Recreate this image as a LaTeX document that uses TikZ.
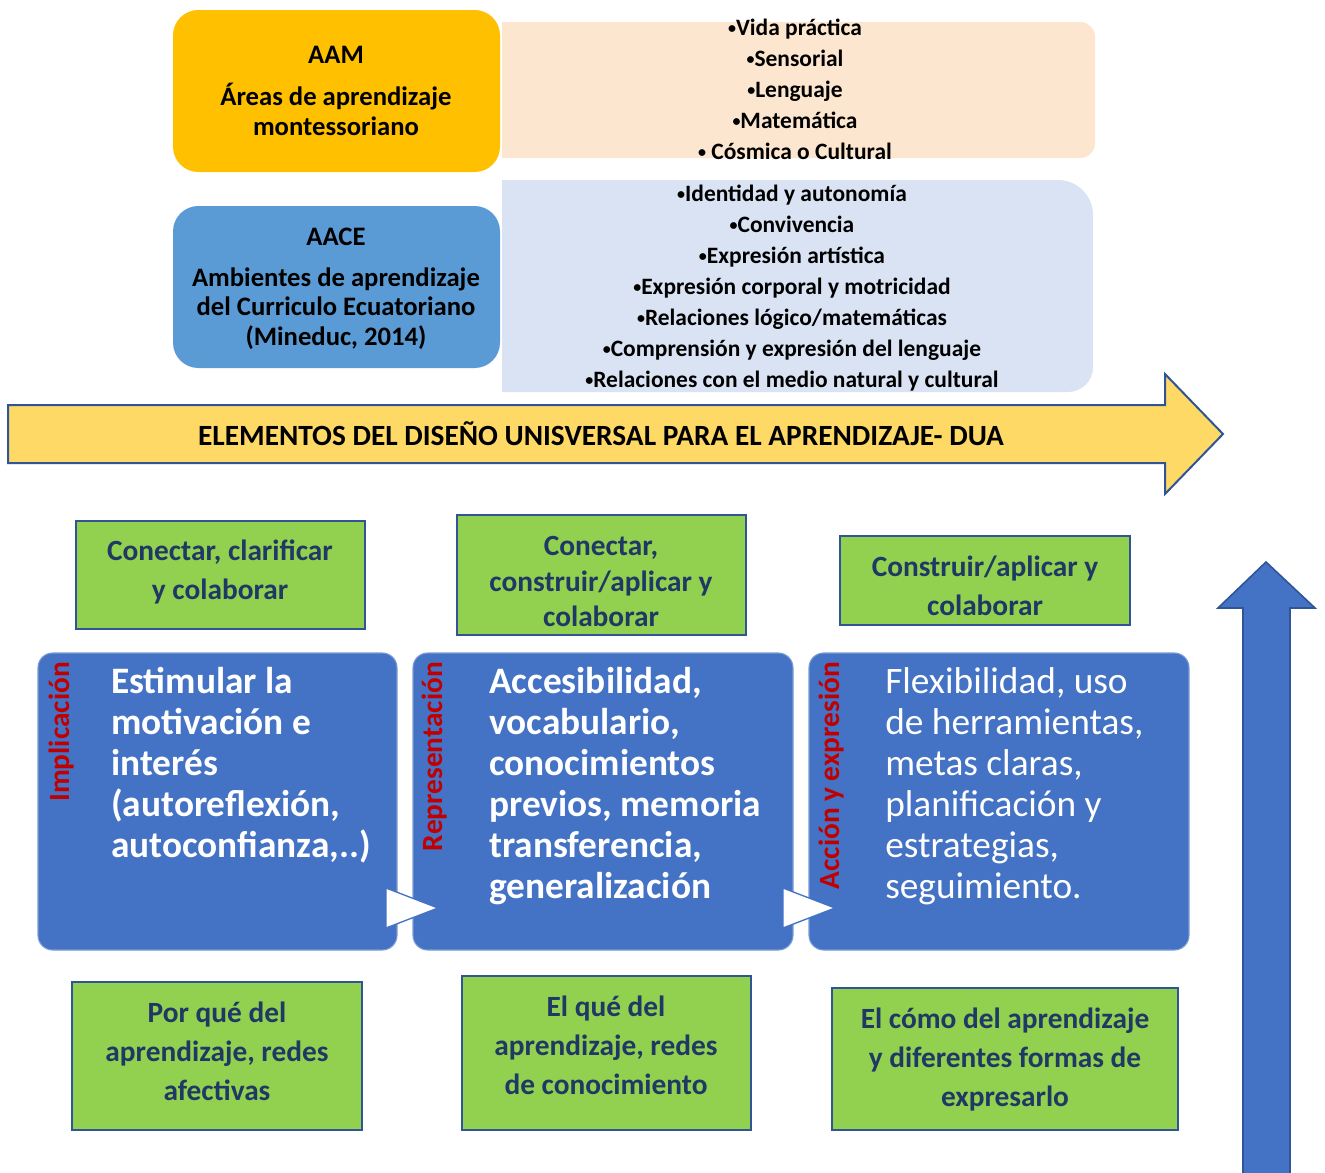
\documentclass[tikz,border=0pt]{standalone}
\usepackage{fontspec}
\setmainfont{Carlito}
\definecolor{amber}{HTML}{FFC000}
\definecolor{peach}{HTML}{FCE6CF}
\definecolor{midblue}{HTML}{5B9BD5}
\definecolor{paleblue}{HTML}{DAE3F3}
\definecolor{bannerfill}{HTML}{FFD966}
\definecolor{dkblue}{HTML}{2F5597}
\definecolor{grnfill}{HTML}{92D050}
\definecolor{navy}{HTML}{1F3864}
\definecolor{boxblue}{HTML}{4472C4}
\definecolor{darkred}{HTML}{C00000}
\newcommand{\bul}{{\fontsize{12}{12}\selectfont\raisebox{1.6pt}{•}}}
\tikzset{
  hdr/.style={font=\bfseries\fontsize{20}{22}\selectfont, align=center, inner sep=0pt},
  lst/.style={font=\bfseries\fontsize{17.6}{23.25}\selectfont, align=center, inner sep=0pt},
  grnbox/.style={draw=dkblue, line width=1.5pt, fill=grnfill},
  grntxt/.style={text=navy, font=\bfseries\fontsize{22}{29.25}\selectfont, align=center, inner sep=0pt},
  bluebox/.style={fill=boxblue, draw=boxblue!70!white, line width=0.8pt, rounded corners=11pt},
  bigtxt/.style={text=white, font=\bfseries\fontsize{28}{30.75}\selectfont, align=left, inner sep=0pt, anchor=north west},
  bigtxtreg/.style={text=white, font=\fontsize{28}{30.75}\selectfont, align=left, inner sep=0pt, anchor=north west},
  sidelbl/.style={text=darkred, font=\bfseries\fontsize{22}{24}\selectfont, rotate=90, anchor=east, inner sep=0pt},
  chev/.style={fill=white, draw=boxblue, line width=1pt, line join=miter},
}
\begin{document}
\begin{tikzpicture}[x=0.75pt,y=-0.75pt]
\useasboundingbox (0,0) rectangle (1325,1172);
\fill[white] (0,0) rectangle (1325,1172);

% list panels
\path[fill=peach] (502,22) -- (1080,22) to[out=0,in=90] (1095,37) -- (1095,143) to[out=-90,in=0] (1080,158) -- (502,158) -- cycle;
\path[fill=paleblue] (502,180) -- (1058,180) to[out=0,in=90] (1093,215) -- (1093,367) to[out=-90,in=0] (1068,392) -- (502,392) -- cycle;

% header boxes
\path[fill=amber, rounded corners=19pt] (173,10) rectangle (500,172);
\path[fill=midblue, rounded corners=19pt] (173,206) rectangle (500,368);

\node[hdr] (aamt) at (336,55) {AAM};
\node[hdr] (aamd) at (336,109.5) {Áreas de aprendizaje\\montessoriano};
\node[hdr] (aacet) at (336,237) {AACE};
\node[hdr] (aaced) at (336,308.5) {Ambientes de aprendizaje\\del Curriculo Ecuatoriano\\(Mineduc, 2014)};

\node[lst] (aamlist) at (795,89.5) {\bul Vida práctica\\\bul Sensorial\\\bul Lenguaje\\\bul Matemática\\\bul\ Cósmica o Cultural};
\node[lst] (aacelist) at (792,288.5) {\bul Identidad y autonomía\\\bul Convivencia\\\bul Expresión artística\\\bul Expresión corporal y motricidad\\\bul Relaciones lógico/matemáticas\\\bul Comprensión y expresión del lenguaje\\\bul Relaciones con el medio natural y cultural};

% banner arrow
\draw[fill=bannerfill, draw=dkblue, line width=1.5pt, line join=miter]
  (8,405) -- (1165,405) -- (1165,374) -- (1223,434) -- (1165,494) -- (1165,463) -- (8,463) -- cycle;
\node[font=\bfseries\fontsize{22}{24}\selectfont, inner sep=0pt] (dua) at (601,434) {ELEMENTOS DEL DISEÑO UNISVERSAL PARA EL APRENDIZAJE- DUA};

% green boxes top
\path[grnbox] (76,521) rectangle (365,629);
\node[grntxt] (g1) at (220,572) {Conectar, clarificar\\y colaborar};
\path[grnbox] (457,515) rectangle (746,635);
\node[grntxt, font=\bfseries\fontsize{22}{26.6}\selectfont] (g2) at (601,581.5) {Conectar,\\construir/aplicar y\\colaborar};
\path[grnbox] (840,536) rectangle (1130,625);
\node[grntxt] (g3) at (985,585.5) {Construir/aplicar y\\colaborar};

% blue boxes
\path[bluebox] (38,653) rectangle (397,950);
\path[bluebox] (413,653) rectangle (793,950);
\path[bluebox] (809,653) rectangle (1189,950);

\node[sidelbl] (l1) at (62,662) {Implicación};
\node[sidelbl] (l2) at (435,662) {Representación};
\node[sidelbl] (l3) at (832,662) {Acción y expresión};

\node[bigtxt] (t1) at (111,667) {Estimular la\\motivación e\\interés\\(autoreflexión,\\autoconfianza,..)};
\node[bigtxt] (t2) at (489,667) {Accesibilidad,\\vocabulario,\\conocimientos\\previos, memoria\\transferencia,\\generalización};
\node[bigtxtreg] (t3) at (885,667) {Flexibilidad, uso\\de herramientas,\\metas claras,\\planificación y\\estrategias,\\seguimiento.};

% chevrons
\path[chev] (386,888) -- (438,908) -- (386,928) -- cycle;
\path[chev] (783,888) -- (835,908) -- (783,928) -- cycle;

% green boxes bottom
\path[grnbox] (72,982) rectangle (362,1130);
\node[grntxt] (g4) at (217,1051.5) {Por qué del\\aprendizaje, redes\\afectivas};
\path[grnbox] (462,976) rectangle (751,1130);
\node[grntxt] (g5) at (606,1045) {El qué del\\aprendizaje, redes\\de conocimiento};
\path[grnbox] (832,988) rectangle (1178,1130);
\node[grntxt] (g6) at (1005,1059) {El cómo del aprendizaje\\y diferentes formas de\\expresarlo};

% up arrow
\draw[fill=boxblue, draw=dkblue, line width=1.2pt, line join=miter]
  (1243,1180) -- (1243,608) -- (1218,608) -- (1266,562) -- (1315,608) -- (1290,608) -- (1290,1180);
\end{tikzpicture}
\end{document}
